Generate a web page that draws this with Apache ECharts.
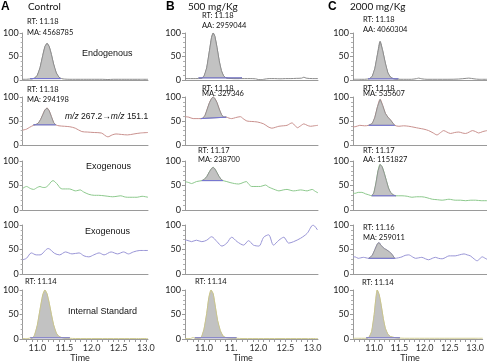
<!DOCTYPE html>
<html>
<head>
<meta charset="utf-8">
<script src="https://cdn.jsdelivr.net/npm/echarts@6/dist/echarts.min.js"></script>
<style>
  html, body { margin: 0; padding: 0; background: #fff; }
  #chart { width: 487px; height: 363px; }
</style>
</head>
<body>
<div id="chart"></div>
<script>
// time (min) vs relative abundance (%)
// column A: control
const a1 = [[10.73,1.5],[10.8,1.5],[10.85,2],[10.9,2.5],[10.95,4],[11.0,10],[11.05,26],[11.1,52],[11.14,71],[11.18,78],[11.22,71],[11.26,54],[11.3,34],[11.35,15],[11.4,6],[11.45,3],[11.5,2],[11.6,1.5],[11.7,1.5],[11.8,1.5],[11.9,1.5],[12.0,1.5],[12.1,1.5],[12.2,1.5],[12.3,1],[12.4,1.5],[12.5,1.5],[12.6,1.5],[12.7,1.5],[12.8,1.5],[12.9,1.5],[13.04,1.5]];
const a2 = [[10.73,31],[10.8,33],[10.86,37],[10.93,41],[10.98,43],[11.02,46],[11.06,53],[11.1,63],[11.14,73],[11.18,77],[11.22,71],[11.26,59],[11.3,47],[11.34,42],[11.4,40],[11.5,39],[11.6,38],[11.7,35],[11.82,28],[11.92,27],[12.05,26],[12.18,25],[12.3,17],[12.38,21],[12.45,23],[12.55,22],[12.66,21],[12.78,23],[12.9,25],[13.04,26]];
const a3 = [[10.73,44],[10.8,48],[10.87,44],[10.93,42],[11.0,46],[11.05,48],[11.1,46],[11.14,46],[11.2,50],[11.25,57],[11.29,60],[11.33,57],[11.38,51],[11.42,45],[11.46,43],[11.52,43],[11.59,43],[11.65,41],[11.7,39],[11.75,40],[11.79,41],[11.85,37],[11.95,32],[12.05,30],[12.13,30],[12.23,29],[12.3,28],[12.39,27],[12.47,28],[12.54,29],[12.6,27],[12.66,26],[12.75,26],[12.84,26],[12.93,28],[13.04,26]];
const a4 = [[10.73,29],[10.8,32],[10.89,43],[10.98,39],[11.05,39],[11.2,52],[11.32,42],[11.41,39],[11.52,45],[11.64,41],[11.77,43],[11.86,37],[11.95,35],[12.04,39],[12.14,43],[12.23,39],[12.36,45],[12.48,41],[12.59,45],[12.68,41],[12.77,45],[12.89,48],[13.04,48]];
const a5 = [[10.73,1],[10.8,1],[10.85,1.5],[10.87,3],[10.89,1.5],[10.92,3],[10.95,8],[11.0,28],[11.05,60],[11.1,90],[11.14,100],[11.18,92],[11.22,73],[11.26,50],[11.3,29],[11.35,12],[11.4,5],[11.45,3],[11.5,2],[11.6,1.5],[11.7,1],[11.8,1],[12.0,1],[12.2,1],[12.4,1],[12.6,1],[12.8,1],[13.04,1]];
// column B: 500 mg/Kg
const b1 = [[10.65,3],[10.75,3],[10.85,3],[10.95,3.5],[11.0,8],[11.05,26],[11.1,62],[11.14,91],[11.17,100],[11.2,93],[11.24,69],[11.28,41],[11.32,20],[11.36,9],[11.4,5],[11.45,3.5],[11.55,3],[11.65,3],[11.75,3],[11.85,3],[11.95,2.5],[12.0,1],[12.05,0.5],[12.1,1.5],[12.2,3],[12.3,3],[12.4,2.5],[12.5,3],[12.6,3],[12.7,3.5],[12.8,4],[12.84,6],[12.88,4],[13.0,3],[13.1,3]];
const b2 = [[10.65,59],[10.72,58],[10.8,55],[10.87,55],[10.94,55],[10.98,56],[11.02,62],[11.06,75],[11.1,88],[11.14,97],[11.17,100],[11.2,97],[11.24,88],[11.28,75],[11.32,64],[11.36,58],[11.41,58],[11.46,56],[11.51,55],[11.58,57],[11.67,59],[11.72,55],[11.79,50],[11.88,49],[11.98,48],[12.1,44],[12.18,38],[12.25,35],[12.32,37],[12.38,39],[12.46,40],[12.53,41],[12.62,46],[12.68,40],[12.72,36],[12.78,40],[12.84,44],[12.9,41],[12.96,39],[13.03,40],[13.1,41]];
const b3 = [[10.65,58],[10.72,56],[10.77,54],[10.82,56],[10.86,58],[10.91,59],[10.96,60],[11.0,62],[11.05,68],[11.1,78],[11.14,85],[11.17,87],[11.2,84],[11.24,76],[11.28,68],[11.32,62],[11.35,60],[11.42,58],[11.48,56],[11.56,54],[11.64,53],[11.72,56],[11.78,58],[11.83,52],[11.88,48],[11.96,48],[12.04,48],[12.13,51],[12.19,47],[12.25,44],[12.32,41],[12.38,39],[12.46,41],[12.53,42],[12.6,40],[12.65,39],[12.72,40],[12.78,41],[12.84,40],[12.9,39],[12.99,42],[13.05,38],[13.1,35]];
const b4 = [[10.65,68],[10.68,69],[10.77,66],[10.86,69],[10.96,66],[11.05,69],[11.14,76],[11.24,66],[11.33,57],[11.42,63],[11.51,75],[11.61,66],[11.73,59],[11.82,68],[11.91,59],[12.01,57],[12.1,75],[12.19,80],[12.28,59],[12.38,69],[12.47,75],[12.56,63],[12.65,66],[12.78,73],[12.9,83],[13.01,100],[13.09,90]];
const b5 = [[10.65,1],[10.75,1],[10.8,3],[10.83,1.5],[10.9,1.5],[10.95,3],[11.0,20],[11.05,52],[11.09,85],[11.13,100],[11.17,92],[11.21,65],[11.25,38],[11.3,17],[11.35,6],[11.4,3],[11.5,2],[11.6,1.5],[11.7,1],[11.9,1],[12.1,1],[12.3,1],[12.5,1],[12.7,1],[12.9,1],[13.1,1]];
// column C: 2000 mg/Kg
const c1 = [[10.58,1.5],[10.7,1.5],[10.8,1.5],[10.85,2],[10.9,3],[10.95,8],[11.0,25],[11.05,55],[11.1,82],[11.15,62],[11.2,36],[11.25,15],[11.3,6],[11.35,3],[11.4,2],[11.5,1.5],[11.6,1.5],[11.7,1.5],[11.8,3],[11.84,4],[11.9,2.5],[12.0,1.5],[12.2,1.5],[12.4,1.5],[12.6,2],[12.75,3.5],[12.8,4],[12.9,2.5],[13.0,1.5],[13.15,1.5]];
const c2 = [[10.58,38],[10.62,38],[10.71,41],[10.8,40],[10.88,41],[10.95,45],[11.0,58],[11.05,80],[11.1,95],[11.15,82],[11.2,66],[11.25,58],[11.3,52],[11.35,45],[11.38,41],[11.46,39],[11.55,40],[11.65,39],[11.75,37],[11.84,35],[11.94,33],[12.03,30],[12.12,25],[12.19,21],[12.26,26],[12.32,30],[12.38,27],[12.45,24],[12.53,26],[12.61,27],[12.68,25],[12.74,24],[12.81,27],[12.87,30],[12.93,28],[12.99,25],[13.07,28],[13.15,30]];
const c3 = [[10.58,34],[10.62,34],[10.68,36],[10.75,36],[10.82,33],[10.88,31],[10.94,29],[10.98,35],[11.02,55],[11.06,80],[11.1,93],[11.14,88],[11.18,75],[11.22,60],[11.26,45],[11.3,36],[11.35,31],[11.4,29],[11.52,29],[11.62,28],[11.71,26],[11.8,27],[11.9,27],[12.0,25],[12.1,22],[12.2,21],[12.29,20],[12.36,21],[12.42,22],[12.48,21],[12.54,20],[12.64,20],[12.74,19],[12.84,20],[12.93,20],[13.04,19],[13.15,19]];
const c4 = [[10.58,35],[10.62,35],[10.68,32],[10.73,33],[10.78,34],[10.83,33],[10.88,32],[10.95,38],[11.0,50],[11.05,62],[11.08,64],[11.12,58],[11.18,52],[11.23,49],[11.28,45],[11.33,40],[11.38,32],[11.45,33],[11.52,35],[11.58,38],[11.65,39],[11.72,35],[11.78,32],[11.84,33],[11.9,34],[11.97,31],[12.03,29],[12.1,32],[12.16,34],[12.22,32],[12.29,31],[12.36,34],[12.42,37],[12.48,37],[12.54,37],[12.62,39],[12.71,41],[12.77,39],[12.83,37],[12.9,31],[12.96,27],[13.01,31],[13.06,35],[13.1,33],[13.15,30]];
const c5 = [[10.58,1.5],[10.7,1.5],[10.8,1.5],[10.85,1.5],[10.9,4],[10.95,15],[11.0,50],[11.03,80],[11.06,100],[11.1,90],[11.14,68],[11.18,42],[11.22,22],[11.27,10],[11.32,5],[11.4,3],[11.5,2],[11.6,1.5],[11.8,1.5],[12.0,1.5],[12.2,1.5],[12.4,1.5],[12.6,1.5],[12.8,1.5],[13.0,1.5],[13.15,1.5]];

// integration baselines (start, end) under each integrated peak
const a1Base = [[10.87,3],[11.43,3]];
const a2Base = [[10.93,42],[11.34,42]];
const a5Base = [[10.87,2.5],[11.6,2.5]];
const b1Base = [[10.9,4.5],[11.7,4.5]];
const b2Base = [[10.94,55],[11.41,58]];
const b3Base = [[10.96,60],[11.35,60]];
const b5Base = [[10.83,2.5],[11.6,2.5]];
const c1Base = [[10.87,2.5],[11.45,2.5]];
const c2Base = [[10.88,41],[11.38,41]];
const c3Base = [[10.94,29],[11.4,29]];
const c4Base = [[10.88,32],[11.38,32]];
const c5Base = [[10.84,2.5],[11.51,2.5]];

const xTickLabels = [11.0, 11.5, 12.0, 12.5, 13.0];
const yTickLabels = [0, 50, 100];
const columnTitles = ['Control', '500 mg/Kg', '2000 mg/Kg'];
const columnLetters = ['A', 'B', 'C'];
const peakNotes = [
  [['RT: 11.18', 'MA: 4568785'], ['RT: 11.18', 'MA: 294198'], null, null, ['RT: 11.14']],
  [['RT: 11.18', 'AA: 2959044'], ['RT: 11.18', 'MA: 329346'], ['RT: 11.17', 'MA: 238700'], null, ['RT: 11.14']],
  [['RT: 11.18', 'AA: 4060304'], ['RT: 11.18', 'MA: 535607'], ['RT: 11.17', 'AA: 1151827'], ['RT: 11.16', 'MA: 259011'], ['RT: 11.14']]
];

const traces = [[a1, a2, a3, a4, a5], [b1, b2, b3, b4, b5], [c1, c2, c3, c4, c5]];
const bases = [[a1Base, a2Base, null, null, a5Base], [b1Base, b2Base, b3Base, null, b5Base], [c1Base, c2Base, c3Base, c4Base, c5Base]];

// layout
const colLeft = [19, 185, 353];
const colWidth = [129, 133, 134];
const colRange = [[10.73, 13.04], [10.65, 13.1], [10.58, 13.15]];
const rowTop = [33, 97, 161, 225, 290];
const rowBottom = [80, 145, 210, 274, 339];
const rowColor = ['#8c8c8c', '#c9918e', '#8dc98d', '#9995d6', '#d0cc92'];
const noteX = [[27, 27, 0, 0, 25], [202, 202, 198, 0, 195], [363, 363, 363, 363, 362]];
const noteY = [[[22, 32.5], [90, 100], null, null, [281.5]],
               [[15.5, 26], [88.5, 94], [150.5, 159.5], null, [281.5]],
               [[20, 29.5], [88.5, 93.5], [150.5, 159.5], [228, 237.5], [283]]];
const timeX = [80, 243, 410];

const tickFont = 'Lato, "Open Sans", sans-serif';
const grid = [], xAxis = [], yAxis = [], series = [], graphic = [];

for (let c = 0; c < 3; c++) {
  const minorTicks = [];
  for (let v = Math.ceil(colRange[c][0] * 10); v <= 130; v++) minorTicks.push(v / 10);
  for (let r = 0; r < 5; r++) {
    const idx = c * 5 + r;
    const last = r === 4;
    grid.push({ left: colLeft[c], top: rowTop[r], width: colWidth[c], height: rowBottom[r] - rowTop[r] });
    xAxis.push({
      type: 'value', gridIndex: idx, min: colRange[c][0], max: colRange[c][1],
      axisLine: { lineStyle: { color: '#9a9a9a', width: 1 } },
      splitLine: { show: false },
      axisTick: { show: last, customValues: minorTicks, length: 3, lineStyle: { color: '#9a9a9a' } },
      axisLabel: {
        show: last, customValues: xTickLabels, fontSize: 9, color: '#333', margin: 5,
        fontFamily: tickFont,
        formatter: v => (c === 1 && v === 11.5) ? '11.' : v.toFixed(1)
      }
    });
    yAxis.push({
      type: 'value', gridIndex: idx, min: 0, max: 100, interval: 50,
      axisLine: { show: true, lineStyle: { color: '#9a9a9a', width: 1 } },
      splitLine: { show: false },
      axisTick: { show: true, length: 3, lineStyle: { color: '#9a9a9a' } },
      minorTick: { show: true, splitNumber: 5, length: 2, lineStyle: { color: '#b0b0b0' } },
      axisLabel: { fontSize: 9, color: '#222', margin: 4, fontFamily: tickFont, customValues: yTickLabels }
    });

    const trace = traces[c][r];
    series.push({
      type: 'line', xAxisIndex: idx, yAxisIndex: idx, data: trace,
      showSymbol: false, smooth: 0.3, silent: true, z: 2,
      lineStyle: { color: rowColor[r], width: 1 }
    });

    const base = bases[c][r];
    if (base) {
      const poly = [base[0]].concat(trace.filter(p => p[0] > base[0][0] && p[0] < base[1][0]), [base[1]]);
      series.push({
        type: 'custom', xAxisIndex: idx, yAxisIndex: idx, data: [base[0]], silent: true, z: 3,
        renderItem: (params, api) => ({
          type: 'polygon',
          shape: { points: poly.map(p => api.coord(p)) },
          style: { fill: '#c2c2c2', stroke: last ? '#c6c28a' : '#878787', lineWidth: 0.8 }
        })
      });
      series.push({
        type: 'line', xAxisIndex: idx, yAxisIndex: idx, data: base,
        showSymbol: false, silent: true, z: 4,
        lineStyle: { color: '#7373d6', width: 1 }
      });
    }

    const notes = peakNotes[c][r];
    if (notes) {
      notes.forEach((t, k) => graphic.push({
        type: 'text', x: noteX[c][r], y: noteY[c][r][k], z: 10,
        style: { text: t, fill: '#111', font: '7.5px ' + tickFont, textVerticalAlign: 'middle' }
      }));
    }
  }
  graphic.push({ type: 'text', x: [1, 166, 328][c], y: 7,
    style: { text: columnLetters[c], fill: '#000', font: 'bold 12px "Liberation Sans", Arial, sans-serif', textVerticalAlign: 'middle' } });
  graphic.push({ type: 'text', x: [28, 188, 350][c], y: 7,
    style: { text: columnTitles[c], fill: '#111', font: '10px ' + tickFont, textVerticalAlign: 'middle' } });
  graphic.push({ type: 'text', x: timeX[c], y: 358,
    style: { text: 'Time', fill: '#222', font: '9px ' + tickFont, textAlign: 'center', textVerticalAlign: 'middle' } });
}

// panel descriptions in column A
const descFont = '9px "Liberation Sans", Arial, sans-serif';
[['Endogenous', 82, 54], ['Exogenous', 86, 167], ['Exogenous', 85, 232], ['Internal Standard', 68, 312]].forEach(d => {
  graphic.push({ type: 'text', x: d[1], y: d[2], style: { text: d[0], fill: '#111', font: descFont, textVerticalAlign: 'middle' } });
});
graphic.push({
  type: 'text', x: 65, y: 117,
  style: {
    text: '{i|m/z} 267.2→{i|m/z} 151.1', fill: '#111', font: '8.5px "Liberation Sans", Arial, sans-serif',
    textVerticalAlign: 'middle',
    rich: { i: { fontStyle: 'italic', fontSize: 8.5, fontFamily: '"Liberation Sans", Arial, sans-serif' } }
  }
});

const chart = echarts.init(document.getElementById('chart'));
chart.setOption({
  animation: false,
  backgroundColor: '#fff',
  grid, xAxis, yAxis, series, graphic
});
</script>
</body>
</html>
